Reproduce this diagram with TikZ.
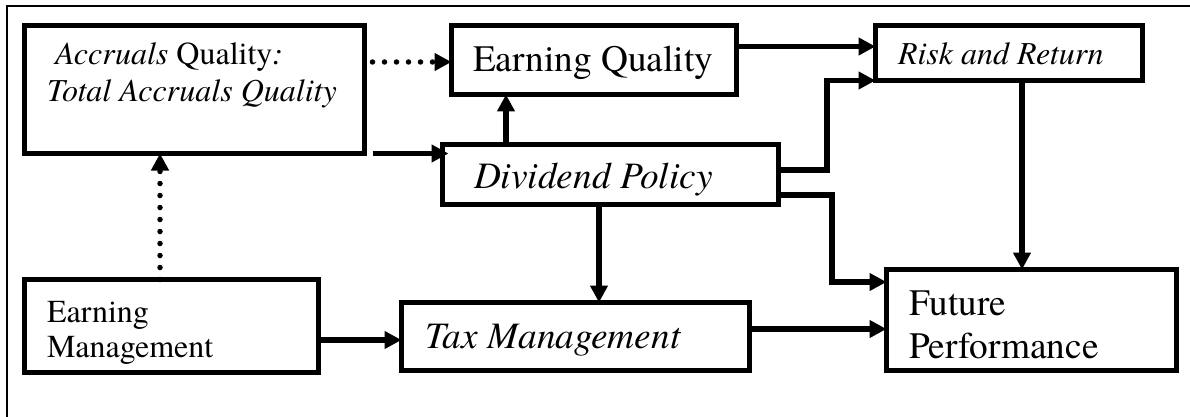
\documentclass[tikz,border=0pt]{standalone}
\usepackage{fontspec}
\setmainfont{TeX Gyre Termes}
\usetikzlibrary{arrows.meta,calc}
\newcommand\labsmall{\fontsize{32}{36}\selectfont}
\newcommand\lablarge{\fontsize{37.3}{43}\selectfont}
\begin{document}
\begin{tikzpicture}[x=1pt,y=-1pt,
  box/.style={draw, line width=5.5pt, inner sep=0pt, outer sep=0pt},
  lbl/.style={anchor=base west, inner sep=0pt, outer sep=0pt},
  arr/.style={line width=5.5pt, -{Triangle[length=17pt,width=17pt]}},
  dotarr/.style={arr, line cap=round, dash pattern=on 0pt off 12pt},
  frame/.style={line width=2pt}]
\useasboundingbox (0,0) rectangle (1190,417);

% outer frame (top and left rule)
\draw[frame] (7,417) -- (7,6) -- (1190,6);

% boxes
\node[box, minimum width=340pt, minimum height=128pt] (A)    at (194.5,89.5)  {};
\node[box, minimum width=285pt, minimum height=69pt]  (EQ)   at (594,60)      {};
\node[box, minimum width=267pt, minimum height=55pt]  (Risk) at (1009,53)     {};
\node[box, minimum width=336pt, minimum height=60pt]  (Div)  at (610.5,174.5) {};
\node[box, minimum width=294pt, minimum height=93pt]  (EM)   at (171.5,326)   {};
\node[box, minimum width=348pt, minimum height=68pt]  (TM)   at (575.5,336.5) {};
\node[box, minimum width=290pt, minimum height=101pt] (FP)   at (1031.5,320)  {};

% labels
\node[lbl] (tA1) at (55,65)   {\labsmall\textit{Accruals} Quality\textit{:}};
\node[lbl] (tA2) at (47,102)  {\labsmall\textit{Total Accruals Quality}};
\node[lbl] (tEQ) at (473,72)  {\lablarge Earning Quality};
\node[lbl] (tRR) at (898,65)  {\labsmall\textit{Risk and Return}};
\node[lbl] (tDP) at (474,188) {\lablarge\textit{Dividend Policy}};
\node[lbl] (tE1) at (47,322)  {\labsmall Earning};
\node[lbl] (tE2) at (47,357)  {\labsmall Management};
\node[lbl] (tTM) at (425,348) {\lablarge\textit{Tax Management}};
\node[lbl] (tF1) at (909,315) {\lablarge Future};
\node[lbl] (tF2) at (909,358) {\lablarge Performance};

% connectors
\coordinate (aq) at ($(A.north east)+(8,36.5)$);
\draw[dotarr] (aq) -- (aq -| EQ.west);

\coordinate (ad) at ($(A.south east)+(8,0)$);
\draw[arr] (ad) -- ($(ad -| Div.west)+(6,0)$);

\coordinate (dq) at ($(Div.north west)+(63.5,0)$);
\draw[arr] (dq) -- (dq |- EQ.south);

\coordinate (er) at ($(EQ.north east)+(0,21)$);
\draw[arr] (er) -- (er -| Risk.west);

\coordinate (dr) at ($(Div.north east)+(0,25.5)$);
\draw[arr] (dr) -| ($(Risk.south west)+(-48.5,0)$) -- (Risk.south west);

\coordinate (df) at ($(Div.north east)+(0,50.5)$);
\draw[arr] (df) -- ++(53.5,0) |- ($(FP.north west)+(0,12.5)$);

\coordinate (rf) at ($(Risk.south)+(13,0)$);
\draw[arr] (rf) -- (rf |- FP.north);

\coordinate (dt) at ($(Div.south)+(-11.5,0)$);
\draw[arr] (dt) -- (dt |- TM.north);

\coordinate (tf) at ($(TM.north east)+(0,26.5)$);
\draw[arr] (tf) -- (tf -| FP.west);

\coordinate (et) at ($(EM.north east)+(0,60.5)$);
\draw[arr] (et) -- (et -| TM.west);

\coordinate (ea) at ($(EM.north west)+(135.5,0)$);
\draw[dotarr] (ea) -- (ea |- A.south);
\end{tikzpicture}
\end{document}
